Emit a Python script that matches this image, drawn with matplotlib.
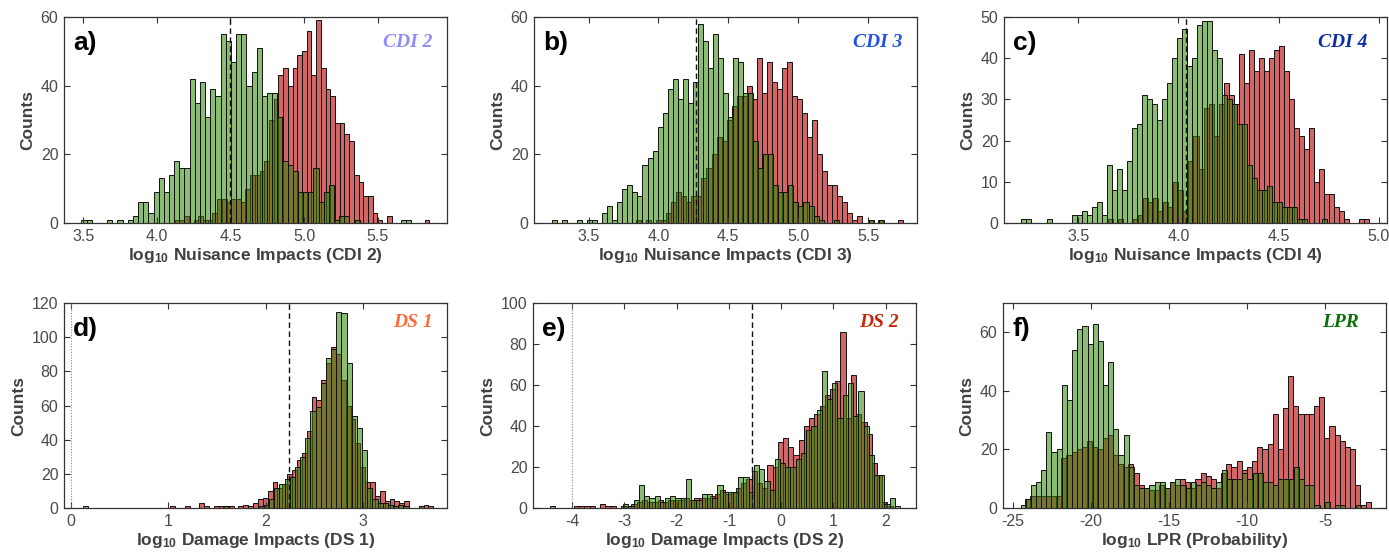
import numpy as np
import matplotlib
matplotlib.use("Agg")
import matplotlib.pyplot as plt

plt.rcParams['font.family'] = ['Liberation Sans', 'DejaVu Sans']
plt.rcParams['mathtext.fontset'] = 'custom'
plt.rcParams['mathtext.rm'] = 'Liberation Sans:bold'
plt.rcParams['mathtext.bf'] = 'Liberation Sans:bold'
plt.rcParams['mathtext.default'] = 'rm'

# ---------------- data (counts per bin) ----------------
# panel a : CDI 2
a_green_start, a_green_width = 3.488, 0.035
a_green = [1, 1, 0, 0, 0, 1, 0, 1, 0, 1, 2, 6, 6, 3, 9, 13, 9, 14, 18, 16, 16, 42, 35, 41, 31, 39, 37,
           55, 53, 47, 55, 55, 40, 44, 51, 37, 38, 38, 31, 18, 17, 15, 9, 9, 9, 16, 6, 9, 11, 1, 2, 2,
           0, 1, 0, 0, 0, 0, 0, 0, 0, 0, 1, 1]
a_red_start, a_red_width = 3.962, 0.032
a_red = [0, 0, 0, 0, 0, 1, 1, 2, 0, 1, 2, 1, 1, 3, 7, 7, 6, 7, 7, 6, 10, 14, 14, 15, 18, 30, 36, 43,
         45, 40, 45, 49, 50, 56, 43, 59, 45, 39, 37, 29, 29, 26, 24, 14, 12, 8, 8, 3, 1, 0, 2, 0, 0,
         0, 0, 0, 0, 0, 1]
a_dash = 4.50

# panel b : CDI 3
b_green_start, b_green_width = 3.238, 0.036
b_green = [1, 0, 1, 0, 0, 1, 0, 1, 1, 0, 3, 5, 1, 6, 10, 11, 9, 8, 17, 19, 21, 28, 32, 39, 42, 36,
           42, 35, 41, 58, 53, 45, 55, 48, 38, 31, 48, 47, 38, 38, 24, 16, 20, 20, 11, 9, 9, 11, 6,
           5, 6, 5, 2, 1, 0, 0, 1, 0, 0, 0, 0, 0, 0, 1, 0, 1]
b_red_start, b_red_width = 3.840, 0.036
b_red = [1, 0, 1, 0, 1, 1, 3, 6, 9, 8, 6, 8, 8, 13, 16, 20, 25, 24, 30, 34, 37, 37, 40, 36, 48, 38,
         47, 41, 39, 45, 47, 37, 36, 32, 25, 30, 20, 15, 11, 11, 8, 6, 3, 1, 2, 0, 1, 0, 1, 0, 0,
         0, 1]
b_dash = 4.27

# panel c : CDI 4
c_green_start, c_green_width = 3.217, 0.025
c_green = [1, 1, 0, 0, 0, 1, 0, 0, 0, 0, 2, 2, 3, 2, 4, 5, 2, 14, 8, 13, 8, 15, 23, 24, 31, 30, 29,
           25, 30, 34, 40, 45, 47, 38, 40, 48, 49, 49, 42, 40, 31, 30, 29, 24, 24, 14, 11, 8, 8, 9,
           5, 5, 4, 4, 4, 1, 1, 0, 0, 0, 1]
c_red_start, c_red_width = 3.650, 0.025
c_red = [1, 0, 1, 0, 0, 1, 2, 6, 5, 6, 3, 5, 4, 10, 8, 3, 15, 21, 13, 28, 29, 21, 29, 34, 31, 29,
         41, 34, 42, 37, 40, 37, 40, 42, 43, 37, 30, 23, 21, 18, 23, 10, 13, 7, 7, 4, 3, 1, 0, 0,
         1, 1]
c_dash = 4.04

# panel d : DS 1
d_green_start, d_green_width = 0.073, 0.053
d_green = [0, 1, 0, 0, 0, 0, 0, 0, 0, 0, 0, 0, 0, 0, 0, 0, 0, 0, 0, 0, 0, 0, 0, 0, 0, 0, 0, 0, 1,
           0, 0, 0, 0, 0, 0, 1, 2, 5, 12, 14, 17, 18, 24, 30, 41, 57, 59, 73, 88, 93, 115, 114, 85,
           54, 47, 34, 12, 5, 3, 3, 2, 1, 2, 1, 0, 0, 1]
d_red_start, d_red_width = 1.02, 0.05
d_red = [1, 0, 0, 1, 0, 0, 3, 1, 0, 1, 1, 1, 1, 0, 1, 2, 1, 3, 5, 6, 10, 15, 12, 14, 20, 22, 28,
         32, 45, 65, 63, 75, 85, 94, 90, 75, 60, 52, 38, 24, 15, 15, 7, 10, 4, 5, 4, 3, 4, 0, 0,
         1, 2, 1]
d_dash = 2.24
d_dot = 0.0

# panel e : DS 2
e_green_start, e_green_width = -4.423, 0.1
e_green = [1, 0, 0, 0, 0, 0, 0, 0, 0, 0, 0, 0, 0, 0, 2, 1, 4, 11, 6, 5, 6, 3, 5, 6, 5, 5, 14, 4, 4,
           7, 7, 5, 11, 8, 8, 8, 15, 15, 8, 21, 19, 13, 9, 24, 22, 20, 20, 24, 27, 38, 40, 48, 67,
           53, 61, 44, 55, 61, 45, 57, 40, 26, 16, 16, 2, 5, 1]
e_red_start, e_red_width = -3.966, 0.1
e_red = [1, 1, 1, 1, 0, 2, 1, 1, 0, 1, 1, 2, 3, 4, 3, 3, 4, 3, 4, 4, 4, 5, 4, 5, 5, 5, 6, 7, 9, 7,
         8, 10, 12, 14, 18, 12, 10, 21, 20, 32, 34, 30, 26, 33, 40, 44, 46, 50, 55, 58, 62, 86, 44,
         65, 46, 42, 36, 22, 16, 3, 1]
e_dash = -0.56
e_dot = -4.0

# panel f : LPR
f_green_start, f_green_width = -24.5, 0.33
f_green = [1, 3, 8, 9, 13, 26, 19, 20, 42, 37, 54, 61, 62, 56, 63, 57, 42, 50, 27, 18, 25, 14, 8, 7,
           7, 8, 9, 9, 7, 9, 10, 8, 7, 9, 8, 9, 8, 7, 9, 13, 10, 10, 10, 12, 10, 12, 12, 9, 9, 8,
           10, 10, 10, 14, 10, 8, 8, 1, 0, 2, 0, 1, 1, 0, 0, 1]
f_red_start, f_red_width = -24.2, 0.33
f_red = [3, 4, 4, 4, 4, 4, 4, 17, 18, 19, 20, 21, 23, 21, 20, 24, 25, 18, 15, 14, 15, 12, 8, 7, 6,
         6, 8, 7, 9, 8, 10, 9, 7, 10, 12, 11, 10, 7, 12, 15, 14, 16, 13, 14, 16, 21, 20, 22, 32,
         20, 34, 45, 35, 32, 32, 32, 35, 38, 24, 28, 25, 23, 21, 20, 8, 1, 2]

panel_letters = ['a)', 'b)', 'c)', 'd)', 'e)', 'f)']
tag_texts = ['CDI 2', 'CDI 3', 'CDI 4', 'DS 1', 'DS 2', 'LPR']
tag_colors = ['#8c8cff', '#1f50e6', '#0b2ea6', '#ff6a3d', '#c42a0a', '#0a6e0a']
xlabels = [r'log$_{10}$ Nuisance Impacts (CDI 2)', r'log$_{10}$ Nuisance Impacts (CDI 3)',
           r'log$_{10}$ Nuisance Impacts (CDI 4)', r'log$_{10}$ Damage Impacts (DS 1)',
           r'log$_{10}$ Damage Impacts (DS 2)', r'log$_{10}$ LPR (Probability)']
xticks_list = [[3.5, 4.0, 4.5, 5.0, 5.5], [3.5, 4.0, 4.5, 5.0, 5.5], [3.5, 4.0, 4.5, 5.0],
               [0, 1, 2, 3], [-4, -3, -2, -1, 0, 1, 2], [-25, -20, -15, -10, -5]]
xtick_fmt = ['{:.1f}', '{:.1f}', '{:.1f}', '{:d}', '{:d}', '{:d}']
yticks_list = [[0, 20, 40, 60], [0, 20, 40, 60], [0, 10, 20, 30, 40, 50],
               [0, 20, 40, 60, 80, 100, 120], [0, 20, 40, 60, 80, 100], [0, 20, 40, 60]]
xlims = [(3.37, 5.97), (3.11, 5.85), (3.13, 5.04), (-0.07, 3.86), (-4.75, 2.58), (-25.62, -1.11)]
ylims = [(0, 60), (0, 60), (0, 50), (0, 120), (0, 100), (0, 70)]

greens = [(a_green_start, a_green_width, a_green), (b_green_start, b_green_width, b_green),
          (c_green_start, c_green_width, c_green), (d_green_start, d_green_width, d_green),
          (e_green_start, e_green_width, e_green), (f_green_start, f_green_width, f_green)]
reds = [(a_red_start, a_red_width, a_red), (b_red_start, b_red_width, b_red),
        (c_red_start, c_red_width, c_red), (d_red_start, d_red_width, d_red),
        (e_red_start, e_red_width, e_red), (f_red_start, f_red_width, f_red)]
dashes = [a_dash, b_dash, c_dash, d_dash, e_dash, None]
dots = [None, None, None, d_dot, e_dot, None]

# ---------------- layout ----------------
W, H = 1389, 559
fig = plt.figure(figsize=(W / 100, H / 100), dpi=100)
lefts = [64, 534, 1004, 64, 533, 1003]
tops = [17, 17, 17, 303, 303, 303]
bottoms = [223, 223, 223, 508, 508, 508]
aw = 383
tag_x = [0.963, 0.963, 0.948, 0.963, 0.956, 0.93]
tag_y = [0.874, 0.874, 0.874, 0.907, 0.907, 0.907]

red_face = (0.71, 0.0, 0.0, 0.6)
green_face = (0.18, 0.52, 0.0, 0.55)
txt_gray = '#404040'
tick_gray = '#4a4a4a'

for k in range(6):
    ax = fig.add_axes([lefts[k] / W, (H - bottoms[k]) / H, aw / W, (bottoms[k] - tops[k]) / H])
    for (s, w, cnt), fc in ((reds[k], red_face), (greens[k], green_face)):
        cnt = np.asarray(cnt, dtype=float)
        edges = s + w * np.arange(len(cnt))
        m = cnt > 0
        ax.bar(edges[m], cnt[m], width=w, align='edge', facecolor=fc,
               edgecolor='#111111', linewidth=0.7)
    if dashes[k] is not None:
        ax.axvline(dashes[k], color='#111111', lw=1.0, ls=(0, (4, 2.5)), zorder=5)
    if dots[k] is not None:
        ax.axvline(dots[k], color='#888888', lw=0.8, ls=(0, (1, 1.5)), zorder=5)
    ax.set_xlim(*xlims[k])
    ax.set_ylim(*ylims[k])
    ax.set_xticks(xticks_list[k])
    ax.set_xticklabels([xtick_fmt[k].format(t) for t in xticks_list[k]])
    ax.set_yticks(yticks_list[k])
    ax.tick_params(direction='in', top=True, right=True, length=4, width=0.8,
                   color='#333333', labelsize=11.5, labelcolor=tick_gray, pad=4)
    for sp in ax.spines.values():
        sp.set_color('#333333')
        sp.set_linewidth(0.9)
    ax.set_xlabel(xlabels[k], fontsize=12.5, fontweight='bold', color=txt_gray, labelpad=2)
    ax.set_ylabel('Counts', fontsize=12.5, fontweight='bold', color=txt_gray, labelpad=4)
    ax.text(0.024, 0.874, panel_letters[k], transform=ax.transAxes, ha='left', va='center',
            fontsize=19, fontweight='heavy', color='black', zorder=6)
    ax.text(tag_x[k], tag_y[k], tag_texts[k], transform=ax.transAxes, ha='right', va='center',
            fontsize=14, fontweight='bold', style='italic', family='Liberation Serif',
            color=tag_colors[k], zorder=6)

fig.savefig('out.png', dpi=100)
